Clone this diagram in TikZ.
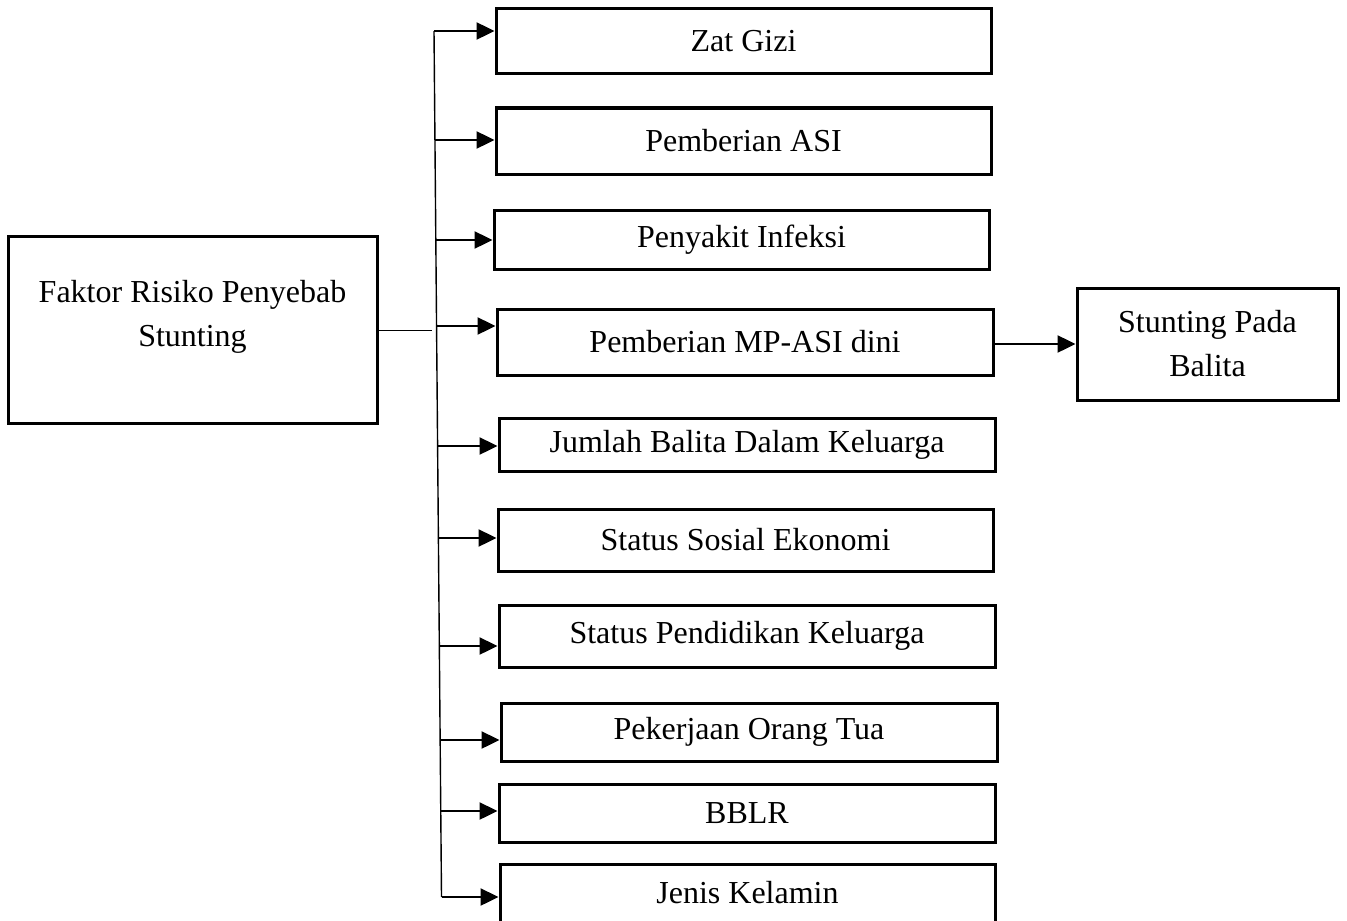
\documentclass[tikz,border=0pt]{standalone}
\usepackage{fontspec}
\setmainfont{Liberation Serif}
\usetikzlibrary{arrows.meta}
\begin{document}
\begin{tikzpicture}[x=0.5pt,y=-0.5pt,
  box/.style={draw,line width=1.5pt,inner sep=0pt,font=\fontsize{16}{22}\selectfont,align=center},
  arr/.style={line width=1.2pt,-{Triangle[length=9pt,width=8.5pt]}},
  trunk/.style={line width=0.7pt},
  thin/.style={line width=0.5pt}]
\useasboundingbox (0,0) rectangle (1347,920);
\fill[white] (0,0) rectangle (1347,920);
% left box
\node[box,minimum width=184.5pt,minimum height=93.5pt] (fk) at (192.5,329.5) {};
\node[font=\fontsize{16}{22}\selectfont,align=center] (fkt) at (192.5,317) {Faktor Risiko Penyebab\\Stunting};
% right box
\node[box,minimum width=130.5pt,minimum height=56pt] (sb) at (1207.5,344) {Stunting Pada\\Balita};
% factor boxes
\node[box,minimum width=247.5pt,minimum height=32.5pt] (b1) at (743.5,41.5) {Zat Gizi};
\node[box,minimum width=247.5pt,minimum height=33pt] (b2) at (743.5,141) {Pemberian ASI};
\node[box,minimum width=247.5pt,minimum height=29.5pt] (b3) at (741.5,239.5) {Penyakit Infeksi};
\node[box,minimum width=248pt,minimum height=33pt] (b4) at (745,342) {Pemberian MP-ASI dini};
\node[box,minimum width=248pt,minimum height=26.5pt] (b5) at (747,444.5) {Jumlah Balita Dalam Keluarga};
\node[box,minimum width=247.5pt,minimum height=31pt] (b6) at (745.5,540) {Status Sosial Ekonomi};
\node[box,minimum width=248pt,minimum height=31pt] (b7) at (747,636) {Status Pendidikan Keluarga};
\node[box,minimum width=248pt,minimum height=29pt] (b8) at (749,732) {Pekerjaan Orang Tua};
\node[box,minimum width=248pt,minimum height=29pt] (b9) at (747,813) {BBLR};
\node[box,minimum width=247.5pt,minimum height=29pt] (b10) at (747.5,893) {Jenis Kelamin};
% trunk coordinates
\coordinate (j1) at (434,31);
\coordinate (j2) at (434.9,140);
\coordinate (j3) at (435.8,240);
\coordinate (j4) at (436.6,326);
\coordinate (j5) at (437.6,446);
\coordinate (j6) at (438.4,538);
\coordinate (j7) at (439.3,646);
\coordinate (j8) at (440.1,740);
\coordinate (j9) at (440.1,811);
\coordinate (j10) at (441.5,897);
\coordinate (jl) at (432,330);
% trunk
\draw[trunk] (j1) -- (j10);
% left line
\draw[thin] (fk.east |- jl) -- (jl);
% arrows
\draw[arr] (j1) -- (j1 -| b1.west);
\draw[arr] (j2) -- (j2 -| b2.west);
\draw[arr] (j3) -- (j3 -| b3.west);
\draw[arr] (j4) -- (j4 -| b4.west);
\draw[arr] (j5) -- (j5 -| b5.west);
\draw[arr] (j6) -- (j6 -| b6.west);
\draw[arr] (j7) -- (j7 -| b7.west);
\draw[arr] (j8) -- (j8 -| b8.west);
\draw[arr] (j9) -- (j9 -| b9.west);
\draw[arr] (j10) -- (j10 -| b10.west);
\draw[arr] ([yshift=-1pt]b4.east) -- (sb.west);
\end{tikzpicture}
\end{document}
